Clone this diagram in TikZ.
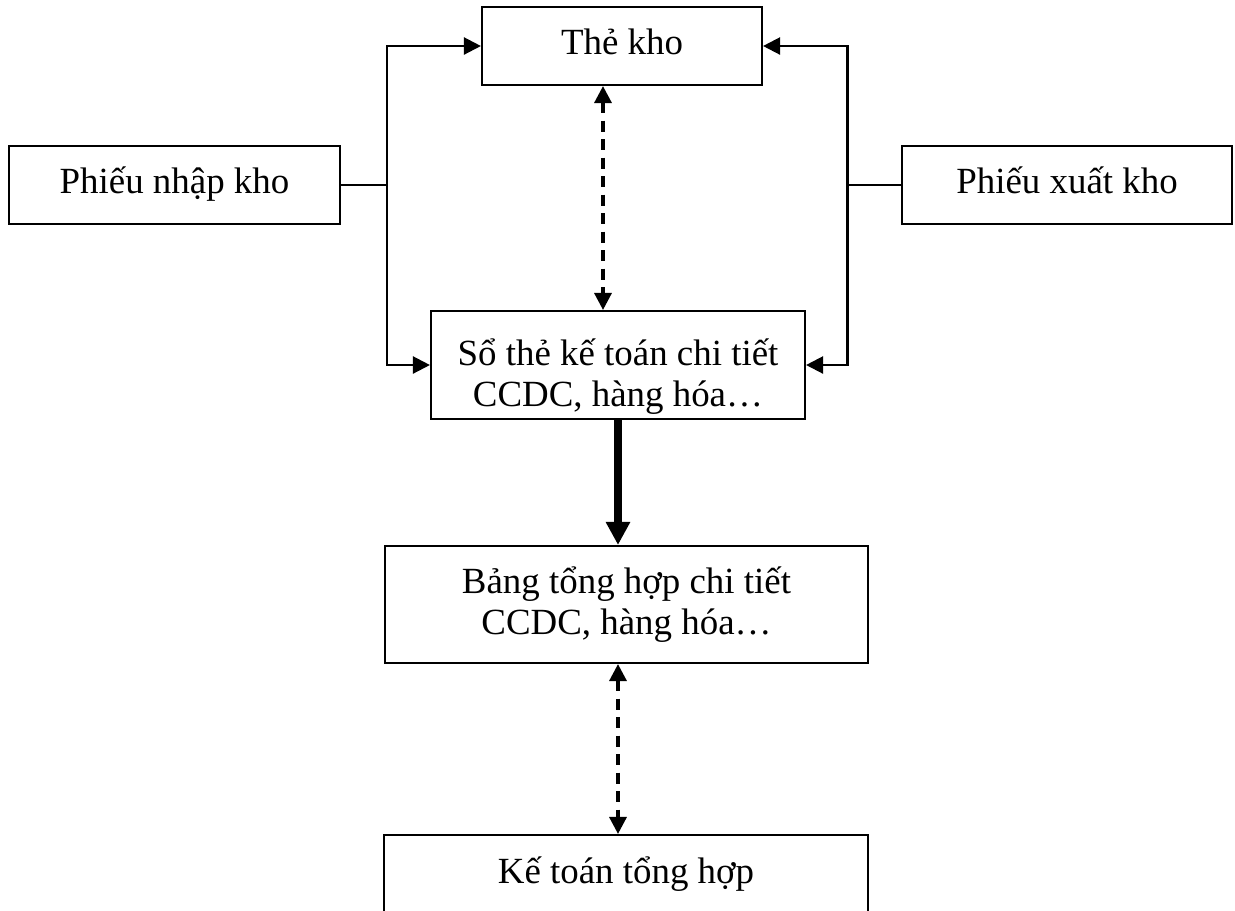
\documentclass[tikz,border=0pt]{standalone}
\usepackage{fontspec}
\setmainfont{Liberation Serif}
\usetikzlibrary{arrows.meta}
\begin{document}
\begin{tikzpicture}[font=\fontsize{21}{23.5}\selectfont,
  box/.style={draw, line width=1.2pt, inner sep=0pt, align=center},
  onebox/.style={box, text height=0.55cm, text depth=0.2cm},
  link/.style={line width=1.3pt, -{Triangle[width=0.34cm,length=0.34cm]}},
  dasharrow/.style={line width=1.9pt, dash pattern=on 0.22cm off 0.15cm, {Triangle[width=0.34cm,length=0.34cm]}-{Triangle[width=0.34cm,length=0.34cm]}},
  bigarrow/.style={line width=4pt, -{Triangle[width=0.46cm,length=0.46cm]}}]
  \useasboundingbox (0,0) rectangle (24.7,-18.2);
  \node[onebox, minimum width=5.6cm, minimum height=1.56cm] (the) at (12.44,-0.92) {Thẻ kho};
  \node[onebox, minimum width=6.62cm, minimum height=1.56cm] (nhap) at (3.49,-3.70) {Phiếu nhập kho};
  \node[onebox, minimum width=6.6cm, minimum height=1.56cm] (xuat) at (21.34,-3.70) {Phiếu xuất kho};
  \node[box, minimum width=7.48cm, minimum height=2.16cm] (so) at (12.36,-7.30) {\rule{0pt}{1.0cm}Sổ thẻ kế toán chi tiết\\ CCDC, hàng hóa…};
  \node[box, minimum width=9.66cm, minimum height=2.34cm] (bang) at (12.53,-12.09) {Bảng tổng hợp chi tiết\\ CCDC, hàng hóa…};
  \node[onebox, minimum width=9.68cm, minimum height=1.6cm] (kt) at (12.52,-17.5) {Kế toán tổng hợp};
  % nhap / xuat vao the kho va so chi tiet
  \coordinate (lj) at (7.74,-3.70);
  \coordinate (rj) at (16.95,-3.70);
  \draw[line width=1.3pt] (nhap.east) -- (lj);
  \draw[line width=1.3pt] (xuat.west) -- (rj);
  \draw[link] (lj) |- (the.west);
  \draw[link] (lj) |- (so.west);
  \draw[link] (rj) |- (the.east);
  \draw[link] (rj) |- (so.east);
  % doi chieu
  \draw[dasharrow] ([xshift=-0.38cm]the.south) -- ([xshift=-0.38cm]the.south |- so.north);
  \draw[bigarrow] (so.south) -- (so.south |- bang.north);
  \draw[dasharrow] (so.south |- bang.south) -- (so.south |- kt.north);
\end{tikzpicture}
\end{document}
